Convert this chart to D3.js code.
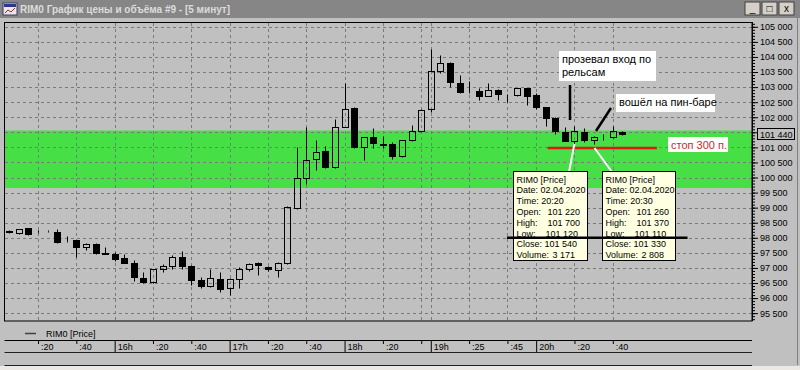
<html>
<head>
<script src="https://d3js.org/d3.v7.min.js"></script>
<style>
  body { margin:0; background:#c0c0c0; overflow:hidden; }
  svg text { font-family: "Liberation Sans", Arial, sans-serif; }
  .grid { stroke:#7a7a7a; stroke-dasharray:3,3; stroke-width:1; fill:none; }
  .wick { stroke:#000; stroke-width:1; }
  .small { font-size:9px; fill:#000; }
  .note { font-size:11px; }
</style>
</head>
<body>
<svg id="chart" width="800" height="370"></svg>
<script>
// RIM0, 5 min candles, 02.04.2020
const times = ["15:05","15:10","15:15","15:20","15:25","15:30","15:35","15:40","15:45","15:50","15:55","16:00",
  "16:05","16:10","16:15","16:20","16:25","16:30","16:35","16:40","16:45","16:50","16:55","17:00",
  "17:05","17:10","17:15","17:20","17:25","17:30","17:35","17:40","17:45","17:50","17:55","18:00",
  "18:05","18:10","18:15","18:20","18:25","18:30","18:35","18:40",
  "19:05","19:10","19:15","19:20","19:25","19:30","19:35","19:40","19:45","19:50","19:55","20:00",
  "20:05","20:10","20:15","20:20","20:25","20:30","20:35","20:40","20:45"];
const opens = [98220,98150,98320,98200,98220,98200,97900,97920,97700,97790,97480,97460,
  97320,97180,96670,96520,96950,97080,97350,97080,96590,96390,96620,96330,
  96620,96950,97160,97040,96930,97150,98990,100000,100600,100880,100350,101680,
  102310,101000,101330,101100,101100,100710,101240,101550,
  102290,103540,103810,103140,102850,102880,102710,102920,102770,102730,102960,102730,
  102330,101980,101520,101220,101520,101260,101330,101340,101520];
const highs = [98260,98300,98340,98270,98250,98290,98050,97940,97830,97830,97690,97540,
  97450,97280,96850,96970,97130,97430,97560,97100,96710,96980,96870,96670,
  97040,97180,97200,97080,97200,99070,101020,101660,101260,101040,101940,103120,
  102330,101350,101630,101370,101180,101260,101740,102260,
  104250,104060,103830,103400,103210,102960,103140,102940,102780,102980,102980,102790,
  102350,102000,101660,101700,101630,101370,101460,101700,101540];
const lows = [98170,98140,98100,98150,98190,97840,97870,97360,97590,97470,97450,97240,
  97160,96570,96500,96500,96850,96950,96950,96420,96350,96370,96200,96110,
  96330,96900,96760,96900,96710,97130,98950,99800,100250,100300,100330,101660,
  100980,100580,100970,100970,100610,100690,101220,101520,
  102180,103460,103010,102820,102820,102570,102690,102570,102510,102710,102400,102260,
  101710,101460,101200,101120,101180,101110,101240,101320,101420];
const closes = [98190,98280,98120,98190,98210,97870,97890,97700,97810,97490,97470,97290,
  97180,96690,96520,96950,97060,97360,97070,96590,96410,96670,96310,96650,
  96950,97120,97090,96960,97180,99030,99970,100580,100850,100340,101680,102290,
  101000,101330,101130,101090,100710,101240,101550,102240,
  103540,103810,103160,102840,102840,102710,102900,102770,102760,102960,102710,102350,
  101990,101550,101220,101540,101240,101330,101340,101550,101440];

const tickIdx = [3,7,11,15,19,23,27,31,35,39,43,44,48,52,55,59,63];
const tickLabels = [":20",":40","16h",":20",":40","17h",":20",":40","18h",":20","","19h",":25",":45","20h",":20",":40"];
const priceTicks = d3.range(95500, 105001, 500);

// tooltips (candle index + volume shown)
const tipIdx = [59, 61];
const tipVolumes = [3171, 2808];
const tipDate = "02.04.2020";

const zoneTop = 101560, zoneBottom = 99650;   // green zone
const stopPrice = 100980;                      // red line
const levelPrice = 98000;                      // black line
const lastPrice = 101440;

const svg = d3.select("#chart");
const x = d3.scaleLinear().domain([-0.5, 77.5]).range([4.5, 751.7]);
const y = d3.scaleLinear().domain([95240, 105160]).range([321, 22]);
const px = i => Math.round(x(i)) + 0.5;
const py = v => Math.round(y(v)) + 0.5;
const fmt = v => d3.format(",")(v).replace(/,/g, " ");

// window chrome
svg.append("rect").attr("x",0).attr("y",0).attr("width",800).attr("height",370).attr("fill","#c0c0c0");
svg.append("rect").attr("x",0).attr("y",0).attr("width",800).attr("height",18).attr("fill","#868686");
const icon = svg.append("g").attr("transform","translate(3,3)");
icon.append("rect").attr("width",14).attr("height",12).attr("fill","#e8e8e8").attr("stroke","#3a3a6a");
icon.append("rect").attr("x",1).attr("y",1).attr("width",12).attr("height",3).attr("fill","#2a3a8a");
icon.append("path").attr("d","M2,10 L5,7 L8,9 L12,5").attr("stroke","#b02020").attr("fill","none");
svg.append("text").attr("x",20).attr("y",13)
   .style("font-size","10px").style("font-weight","bold").attr("fill","#dcdcdc")
   .text("RIM0 График цены и объёма #9 - [5 минут]");
["_","□","x"].forEach((g,i)=>{
  const b = svg.append("g").attr("transform","translate("+(745+i*17)+",2)");
  b.append("rect").attr("width",15).attr("height",13).attr("fill","#d4d0c8").attr("stroke","#404040");
  b.append("text").attr("x",7.5).attr("y",10).attr("text-anchor","middle")
   .style("font-size","10px").attr("fill","#000").text(g);
});

// plot area
const plot = svg.append("g");
plot.append("rect").attr("x",4.5).attr("y",22.5).attr("width",747.5).attr("height",298.5).attr("fill","#c0c0c0");
plot.append("rect").attr("x",4.5).attr("y",y(zoneTop)).attr("width",747.5)
    .attr("height",y(zoneBottom)-y(zoneTop)).attr("fill","#46e046");

plot.selectAll(".hgrid").data(priceTicks).enter().append("line")
    .attr("class","grid").attr("x1",5).attr("x2",752)
    .attr("y1",d=>py(d)).attr("y2",d=>py(d));
plot.selectAll(".vgrid").data(tickIdx).enter().append("line")
    .attr("class","grid").attr("y1",23).attr("y2",321)
    .attr("x1",d=>px(d)).attr("x2",d=>px(d));

plot.append("rect").attr("x",4.5).attr("y",22.5).attr("width",747.5).attr("height",298.5)
    .attr("fill","none").attr("stroke","#000");

// candles
const candles = times.map((t,i)=>({i:i, o:opens[i], h:highs[i], l:lows[i], c:closes[i]}));
const cg = plot.selectAll(".candle").data(candles).enter().append("g").attr("class","candle");
cg.append("line").attr("class","wick")
  .attr("x1",d=>px(d.i)).attr("x2",d=>px(d.i))
  .attr("y1",d=>py(d.h)).attr("y2",d=>py(Math.max(d.o,d.c)));
cg.append("line").attr("class","wick")
  .attr("x1",d=>px(d.i)).attr("x2",d=>px(d.i))
  .attr("y1",d=>py(Math.min(d.o,d.c))).attr("y2",d=>py(d.l));
cg.append("rect")
  .attr("x",d=>px(d.i)-3).attr("width",6)
  .attr("y",d=>py(Math.max(d.o,d.c)))
  .attr("height",d=>py(Math.min(d.o,d.c))-py(Math.max(d.o,d.c)))
  .attr("fill",d=>d.c<d.o ? "#000" : "none")
  .attr("stroke","#000");

// y axis
const yAxis = svg.append("g").attr("transform","translate(752,0)");
yAxis.call(d3.axisRight(y).tickValues(d3.range(95300,105101,100)).tickSize(3).tickSizeOuter(0).tickFormat(""));
yAxis.select(".domain").attr("d","M0.5,22V321");
const yMajor = svg.append("g").attr("transform","translate(752,0)")
  .call(d3.axisRight(y).tickValues(priceTicks).tickSize(6).tickPadding(2)
        .tickFormat(d => Math.abs(d - lastPrice) < 250 ? "" : fmt(d)));
yMajor.select(".domain").remove();
yMajor.selectAll("text").style("font-size","9px").attr("fill","#000");
svg.append("rect").attr("x",757.5).attr("y",py(lastPrice)-6).attr("width",37).attr("height",11)
   .attr("fill","#c0c0c0").attr("stroke","#000");
svg.append("text").attr("class","small").attr("x",760).attr("y",py(lastPrice)+3.5).text(fmt(lastPrice));
svg.append("line").attr("x1",797.5).attr("x2",797.5).attr("y1",18).attr("y2",365).attr("stroke","#808080");

// legend
svg.append("line").attr("x1",25).attr("x2",36).attr("y1",333.5).attr("y2",333.5).attr("stroke","#404040").attr("stroke-width",1.5);
svg.append("text").attr("class","small").attr("x",46).attr("y",336.5).text("RIM0 [Price]");

// time axis
const xAxis = svg.append("g").attr("transform","translate(0,340)")
  .call(d3.axisBottom(x).tickValues(tickIdx).tickSize(3).tickSizeOuter(0)
        .tickFormat((d,i)=>tickLabels[i]));
xAxis.select(".domain").attr("d","M4.5,0.5H752");
xAxis.selectAll(".tick line").attr("y1",1)
     .attr("y2",(d,i)=>tickLabels[i].indexOf("h")>0 ? 12.5 : 4);
xAxis.selectAll(".tick text").attr("text-anchor","start").attr("x",2.5).attr("y",10).attr("dy",0)
     .style("font-size","9px").attr("fill","#000");
svg.append("line").attr("x1",4.5).attr("x2",752).attr("y1",352.5).attr("y2",352.5).attr("stroke","#202020");
svg.append("line").attr("x1",4.5).attr("x2",752).attr("y1",365.5).attr("y2",365.5).attr("stroke","#202020");
svg.append("rect").attr("x",0).attr("y",366).attr("width",800).attr("height",4).attr("fill","#ece9e4");

// annotations
svg.append("line").attr("x1",x(56.2)).attr("x2",x(67.6)).attr("y1",y(stopPrice)).attr("y2",y(stopPrice))
   .attr("stroke","#e01818").attr("stroke-width",2.5);

const tipBoxes = [{x:513.5, w:74}, {x:602.5, w:73}];
tipIdx.forEach((ci,k)=>{
  const b = tipBoxes[k];
  svg.append("line").attr("x1",px(ci)).attr("y1",k===0 ? y(lows[ci]) : y(stopPrice))
     .attr("x2",k===0 ? 569 : 612).attr("y2",172)
     .attr("stroke","#fff").attr("stroke-width",2);
  const g = svg.append("g").attr("transform","translate("+b.x+",171.5)");
  g.append("rect").attr("width",b.w).attr("height",89).attr("fill","#ffffe1").attr("stroke","#000");
  const rows = [
    ["RIM0 [Price]", ""],
    ["Date: "+tipDate, ""],
    ["Time: "+times[ci], ""],
    ["Open:", fmt(opens[ci]), 31],
    ["High:", fmt(highs[ci]), 31],
    ["Low:", fmt(lows[ci]), 29],
    ["Close:", fmt(closes[ci]), 28],
    ["Volume:", fmt(tipVolumes[k]), 36]
  ];
  rows.forEach((r,j)=>{
    g.append("text").attr("class","small").attr("x",3).attr("y",11+j*10.8).text(r[0]);
    if (r[1]) g.append("text").attr("class","small").attr("x",3+r[2]).attr("y",11+j*10.8).text(r[1]);
  });
});

svg.append("line").attr("x1",x(51.95)).attr("x2",x(70.8)).attr("y1",y(levelPrice)).attr("y2",y(levelPrice))
   .attr("stroke","#000").attr("stroke-width",2.5);

svg.append("line").attr("x1",570).attr("x2",570).attr("y1",85).attr("y2",120)
   .attr("stroke","#000").attr("stroke-width",2.5);
svg.append("line").attr("x1",596).attr("y1",131).attr("x2",611).attr("y2",108)
   .attr("stroke","#000").attr("stroke-width",2.5);

const notes = [
  {x:559, y:51, w:97, h:30, lines:["прозевал вход по","рельсам"], color:"#000"},
  {x:616, y:94, w:99, h:18, lines:["вошёл на пин-баре"], color:"#000"},
  {x:668, y:137, w:60, h:15, lines:["стоп 300 п."], color:"#c82a2a"}
];
notes.forEach(n=>{
  svg.append("rect").attr("x",n.x).attr("y",n.y).attr("width",n.w).attr("height",n.h).attr("fill","#fff");
  n.lines.forEach((l,j)=>{
    svg.append("text").attr("class","note").attr("x",n.x+3).attr("y",n.y+12+j*13)
       .style("fill",n.color).text(l);
  });
});
</script>
</body>
</html>
